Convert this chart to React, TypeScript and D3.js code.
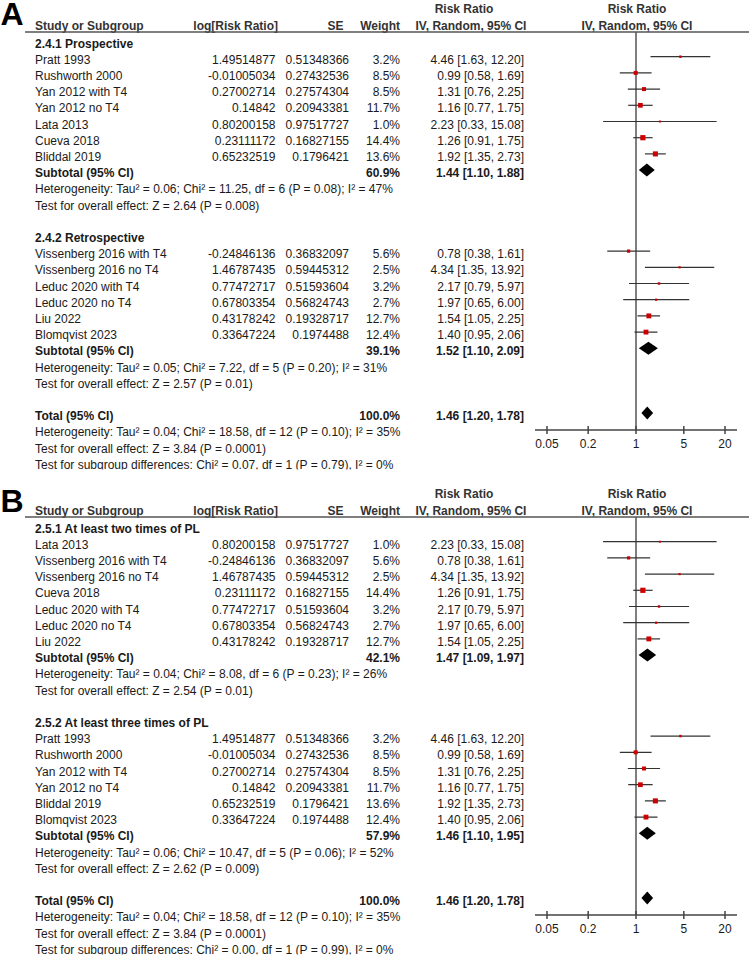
import { scaleLinear, scaleLog, scaleSqrt } from "d3";

// study table (shared by both panels)
const studies = [
  "Pratt 1993",
  "Rushworth 2000",
  "Yan 2012 with T4",
  "Yan 2012 no T4",
  "Lata 2013",
  "Cueva 2018",
  "Bliddal 2019",
  "Vissenberg 2016 with T4",
  "Vissenberg 2016 no T4",
  "Leduc 2020 with T4",
  "Leduc 2020 no T4",
  "Liu 2022",
  "Blomqvist 2023",
];
const logRR = ["1.49514877", "-0.01005034", "0.27002714", "0.14842", "0.80200158", "0.23111172", "0.65232519", "-0.24846136", "1.46787435", "0.77472717", "0.67803354", "0.43178242", "0.33647224"];
const seVals = ["0.51348366", "0.27432536", "0.27574304", "0.20943381", "0.97517727", "0.16827155", "0.1796421", "0.36832097", "0.59445312", "0.51593604", "0.56824743", "0.19328717", "0.1974488"];
const weights = [3.2, 8.5, 8.5, 11.7, 1.0, 14.4, 13.6, 5.6, 2.5, 3.2, 2.7, 12.7, 12.4];
const rr = [4.46, 0.99, 1.31, 1.16, 2.23, 1.26, 1.92, 0.78, 4.34, 2.17, 1.97, 1.54, 1.4];
const ciLow = [1.63, 0.58, 0.76, 0.77, 0.33, 0.91, 1.35, 0.38, 1.35, 0.79, 0.65, 1.05, 0.95];
const ciHigh = [12.2, 1.69, 2.25, 1.75, 15.08, 1.75, 2.73, 1.61, 13.92, 5.97, 6.0, 2.25, 2.06];

// panel A subgroups
const groupsA = [[0, 1, 2, 3, 4, 5, 6], [7, 8, 9, 10, 11, 12]];
const titlesA = ["2.4.1 Prospective", "2.4.2 Retrospective"];
const subWeightA = [60.9, 39.1];
const subRRA = [1.44, 1.52];
const subLowA = [1.1, 1.1];
const subHighA = [1.88, 2.09];
const hetA = [
  "Heterogeneity: Tau² = 0.06; Chi² = 11.25, df = 6 (P = 0.08); I² = 47%",
  "Heterogeneity: Tau² = 0.05; Chi² = 7.22, df = 5 (P = 0.20); I² = 31%",
];
const testA = ["Test for overall effect: Z = 2.64 (P = 0.008)", "Test for overall effect: Z = 2.57 (P = 0.01)"];
const diffA = "Test for subgroup differences: Chi² = 0.07, df = 1 (P = 0.79), I² = 0%";

// panel B subgroups
const groupsB = [[4, 7, 8, 5, 9, 10, 11], [0, 1, 2, 3, 6, 12]];
const titlesB = ["2.5.1 At least two times of PL", "2.5.2 At least three times of PL"];
const subWeightB = [42.1, 57.9];
const subRRB = [1.47, 1.46];
const subLowB = [1.09, 1.1];
const subHighB = [1.97, 1.95];
const hetB = [
  "Heterogeneity: Tau² = 0.04; Chi² = 8.08, df = 6 (P = 0.23); I² = 26%",
  "Heterogeneity: Tau² = 0.06; Chi² = 10.47, df = 5 (P = 0.06); I² = 52%",
];
const testB = ["Test for overall effect: Z = 2.54 (P = 0.01)", "Test for overall effect: Z = 2.62 (P = 0.009)"];
const diffB = "Test for subgroup differences: Chi² = 0.00, df = 1 (P = 0.99), I² = 0%";

// overall
const totalWeight = 100.0;
const totalRR = 1.46;
const totalLow = 1.2;
const totalHigh = 1.78;
const totalHet = "Heterogeneity: Tau² = 0.04; Chi² = 18.58, df = 12 (P = 0.10); I² = 35%";
const totalTest = "Test for overall effect: Z = 3.84 (P = 0.0001)";

const ticks = [0.05, 0.2, 1, 5, 20];

const FONT = "'Liberation Sans', Arial, sans-serif";
const INK = "#1a1a1a";

const x = scaleLog().domain([0.05, 20]).range([547, 725]);
const rowY = scaleLinear().domain([0, 26]).range([47.5, 468.7]);
const boxSize = scaleSqrt().domain([0, 14.4]).range([0, 5.2]);

const ciText = (r: number, lo: number, hi: number) => `${r.toFixed(2)} [${lo.toFixed(2)}, ${hi.toFixed(2)}]`;

type Row =
  | { kind: "title"; text: string }
  | { kind: "study"; i: number }
  | { kind: "sub"; label: string; w: number; r: number; lo: number; hi: number }
  | { kind: "note"; text: string }
  | { kind: "blank" };

const Panel = ({
  id, offset, letter, letterY, groups, titles, subW, subR, subL, subH, het, test, diff,
}: {
  id: string; offset: number; letter: string; letterY: number; groups: number[][]; titles: string[];
  subW: number[]; subR: number[]; subL: number[]; subH: number[]; het: string[]; test: string[]; diff: string;
}) => {
  const rows: Row[] = [];
  groups.forEach((g, gi) => {
    rows.push({ kind: "title", text: titles[gi] });
    g.forEach((i) => rows.push({ kind: "study", i }));
    rows.push({ kind: "sub", label: "Subtotal (95% CI)", w: subW[gi], r: subR[gi], lo: subL[gi], hi: subH[gi] });
    rows.push({ kind: "note", text: het[gi] });
    rows.push({ kind: "note", text: test[gi] });
    rows.push({ kind: "blank" });
  });
  rows.push({ kind: "sub", label: "Total (95% CI)", w: totalWeight, r: totalRR, lo: totalLow, hi: totalHigh });
  rows.push({ kind: "note", text: totalHet });
  rows.push({ kind: "note", text: totalTest });
  rows.push({ kind: "note", text: diff });

  const totalIdx = rows.length - 4;
  const axisY = rowY(totalIdx) - 7 + 17;
  const nullX = x(1);
  const [r0, r1] = x.range();

  return (
    <g transform={`translate(0,${offset})`} fontFamily={FONT} fontSize={12} fill={INK}>
      <defs>
        <clipPath id={`clip-${id}`}>
          <rect x={0} y={-4} width={749} height={473.5} />
        </clipPath>
      </defs>
      <text x={0.5} y={letterY} fontSize={32} fontWeight="bold" fill="#000">{letter}</text>

      <g clipPath={`url(#clip-${id})`}>
        {/* header */}
        <g fontWeight="bold" fill="#333">
          <text x={464} y={13} textAnchor="middle">Risk Ratio</text>
          <text x={637} y={13} textAnchor="middle">Risk Ratio</text>
          <text x={35} y={29.5}>Study or Subgroup</text>
          <text x={278} y={29.5} textAnchor="end">log[Risk Ratio]</text>
          <text x={343.5} y={29.5} textAnchor="end">SE</text>
          <text x={400} y={29.5} textAnchor="end">Weight</text>
          <text x={471} y={29.5} textAnchor="middle">IV, Random, 95% CI</text>
          <text x={637} y={29.5} textAnchor="middle">IV, Random, 95% CI</text>
        </g>
        <line x1={25} x2={749} y1={32} y2={32} stroke="#555" strokeWidth={1.5} />
        <line x1={nullX} x2={nullX} y1={32} y2={axisY} stroke="#555" strokeWidth={1.5} />

        {rows.map((row, k) => {
          const y = rowY(k);
          const my = y - 7;
          if (row.kind === "title") return <text key={k} x={35} y={y} fontWeight="bold">{row.text}</text>;
          if (row.kind === "note") return <text key={k} x={35} y={y}>{row.text}</text>;
          if (row.kind === "blank") return null;
          if (row.kind === "study") {
            const i = row.i;
            const s = Math.max(2, boxSize(weights[i]));
            return (
              <g key={k}>
                <text x={35} y={y}>{studies[i]}</text>
                <text x={275.5} y={y} textAnchor="end">{logRR[i]}</text>
                <text x={349} y={y} textAnchor="end">{seVals[i]}</text>
                <text x={400} y={y} textAnchor="end">{weights[i].toFixed(1)}%</text>
                <text x={524} y={y} textAnchor="end">{ciText(rr[i], ciLow[i], ciHigh[i])}</text>
                <line x1={x(ciLow[i])} x2={x(ciHigh[i])} y1={my} y2={my} stroke="#333" strokeWidth={1.2} />
                <rect x={x(rr[i]) - s / 2} y={my - s / 2} width={s} height={s} fill="#cc0000" />
              </g>
            );
          }
          const d = `M${x(row.lo)},${my} L${x(row.r)},${my - 6.5} L${x(row.hi)},${my} L${x(row.r)},${my + 6.5} Z`;
          return (
            <g key={k} fontWeight="bold">
              <text x={35} y={y}>{row.label}</text>
              <text x={400} y={y} textAnchor="end">{row.w.toFixed(1)}%</text>
              <text x={524} y={y} textAnchor="end">{ciText(row.r, row.lo, row.hi)}</text>
              <path d={d} fill="#000" />
            </g>
          );
        })}

        {/* axis */}
        <line x1={r0 - 12} x2={r1 + 12} y1={axisY} y2={axisY} stroke="#444" strokeWidth={1.5} />
        {ticks.map((t) => (
          <g key={t}>
            <line x1={x(t)} x2={x(t)} y1={axisY - 4} y2={axisY + 4} stroke="#444" strokeWidth={1.5} />
            <text x={x(t)} y={axisY + 17.5} textAnchor="middle">{t}</text>
          </g>
        ))}
      </g>
    </g>
  );
};

export default function App() {
  return (
    <svg width={749} height={957} style={{ position: "absolute", left: 0, top: 0, background: "#fff" }}>
      <rect width={749} height={957} fill="#fff" />
      <Panel id="a" offset={0} letter="A" letterY={24.6} groups={groupsA} titles={titlesA}
        subW={subWeightA} subR={subRRA} subL={subLowA} subH={subHighA} het={hetA} test={testA} diff={diffA} />
      <Panel id="b" offset={485} letter="B" letterY={26.7} groups={groupsB} titles={titlesB}
        subW={subWeightB} subR={subRRB} subL={subLowB} subH={subHighB} het={hetB} test={testB} diff={diffB} />
    </svg>
  );
}
